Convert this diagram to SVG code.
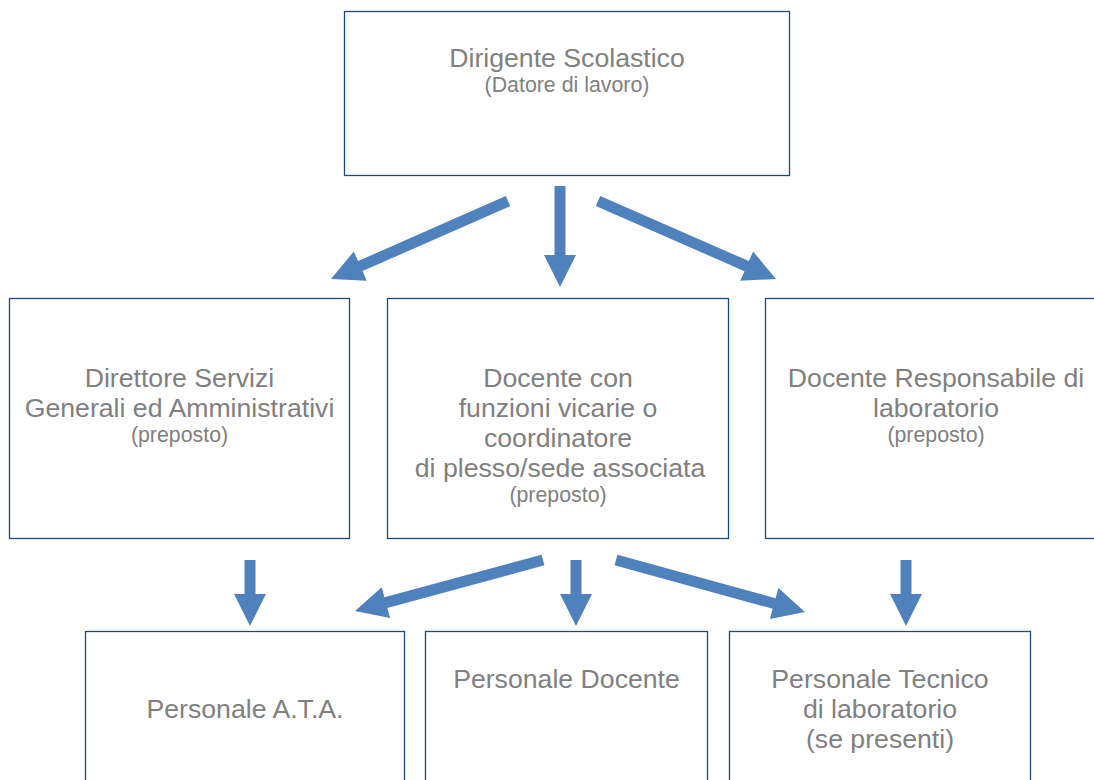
<svg xmlns="http://www.w3.org/2000/svg" width="1094" height="780" viewBox="0 0 1094 780">
<style>
.box{fill:#FFFFFF;stroke:#1F497D;stroke-width:1.3}
.t{font-family:"Liberation Sans",Arial,sans-serif;font-size:26.67px;fill:#808080;text-anchor:middle}
.s{font-size:21.33px}
.arr{fill:#4F81BD}
</style>
<rect x="0" y="0" width="1094" height="780" fill="#FFFFFF"/>
<g id="connectors">
<polygon class="arr" points="554.5,186 554.5,255 544,255 560,287 576,255 565.5,255 565.5,186"/>
<polygon class="arr" points="505.78,195.97 358.07,261.06 353.84,251.45 331,279 366.74,280.73 362.51,271.12 510.22,206.03"/>
<polygon class="arr" points="595.79,206.04 744.48,271.2 740.27,280.81 776,279 753.11,251.51 748.9,261.12 600.21,195.96"/>
<polygon class="arr" points="244.5,560 244.5,594 234,594 250,626 266,594 255.5,594 255.5,560"/>
<polygon class="arr" points="570.5,560 570.5,594 560,594 576,626 592,594 581.5,594 581.5,560"/>
<polygon class="arr" points="900.5,560 900.5,594 890,594 906,626 922,594 911.5,594 911.5,560"/>
<polygon class="arr" points="541.56,554.69 384.44,597.31 381.69,587.18 355,611 390.07,618.06 387.32,607.93 544.44,565.31"/>
<polygon class="arr" points="614.54,565.3 772.69,608.81 769.91,618.94 805,612 778.4,588.08 775.61,598.21 617.46,554.7"/>
</g>
<g id="dirigente">
<rect class="box" x="344.5" y="11.5" width="445" height="164"/>
<text class="t" x="567" y="67">Dirigente Scolastico</text>
<text class="t s" x="567" y="92">(Datore di lavoro)</text>
</g>
<g id="dsga">
<rect class="box" x="9.5" y="298.5" width="340" height="240"/>
<text class="t" x="179.5" y="387">Direttore Servizi</text>
<text class="t" x="179.5" y="417">Generali ed Amministrativi</text>
<text class="t s" x="179.5" y="442">(preposto)</text>
</g>
<g id="docente-vicario">
<rect class="box" x="387.5" y="298.5" width="341" height="240"/>
<text class="t" x="558" y="387">Docente con</text>
<text class="t" x="558" y="417">funzioni vicarie o</text>
<text class="t" x="558" y="447">coordinatore</text>
<text class="t" x="560" y="477">di plesso/sede associata</text>
<text class="t s" x="558" y="502">(preposto)</text>
</g>
<g id="docente-laboratorio">
<rect class="box" x="765.5" y="298.5" width="341" height="240"/>
<text class="t" x="936" y="387">Docente Responsabile di</text>
<text class="t" x="936" y="417">laboratorio</text>
<text class="t s" x="936" y="442">(preposto)</text>
</g>
<g id="personale-ata">
<rect class="box" x="85.5" y="631.5" width="319" height="170"/>
<text class="t" x="245" y="718">Personale A.T.A.</text>
</g>
<g id="personale-docente">
<rect class="box" x="425.5" y="631.5" width="282" height="170"/>
<text class="t" x="566.5" y="688">Personale Docente</text>
</g>
<g id="personale-tecnico">
<rect class="box" x="729.5" y="631.5" width="301" height="170"/>
<text class="t" x="880" y="688">Personale Tecnico</text>
<text class="t" x="880" y="718">di laboratorio</text>
<text class="t" x="880" y="748">(se presenti)</text>
</g>
</svg>
